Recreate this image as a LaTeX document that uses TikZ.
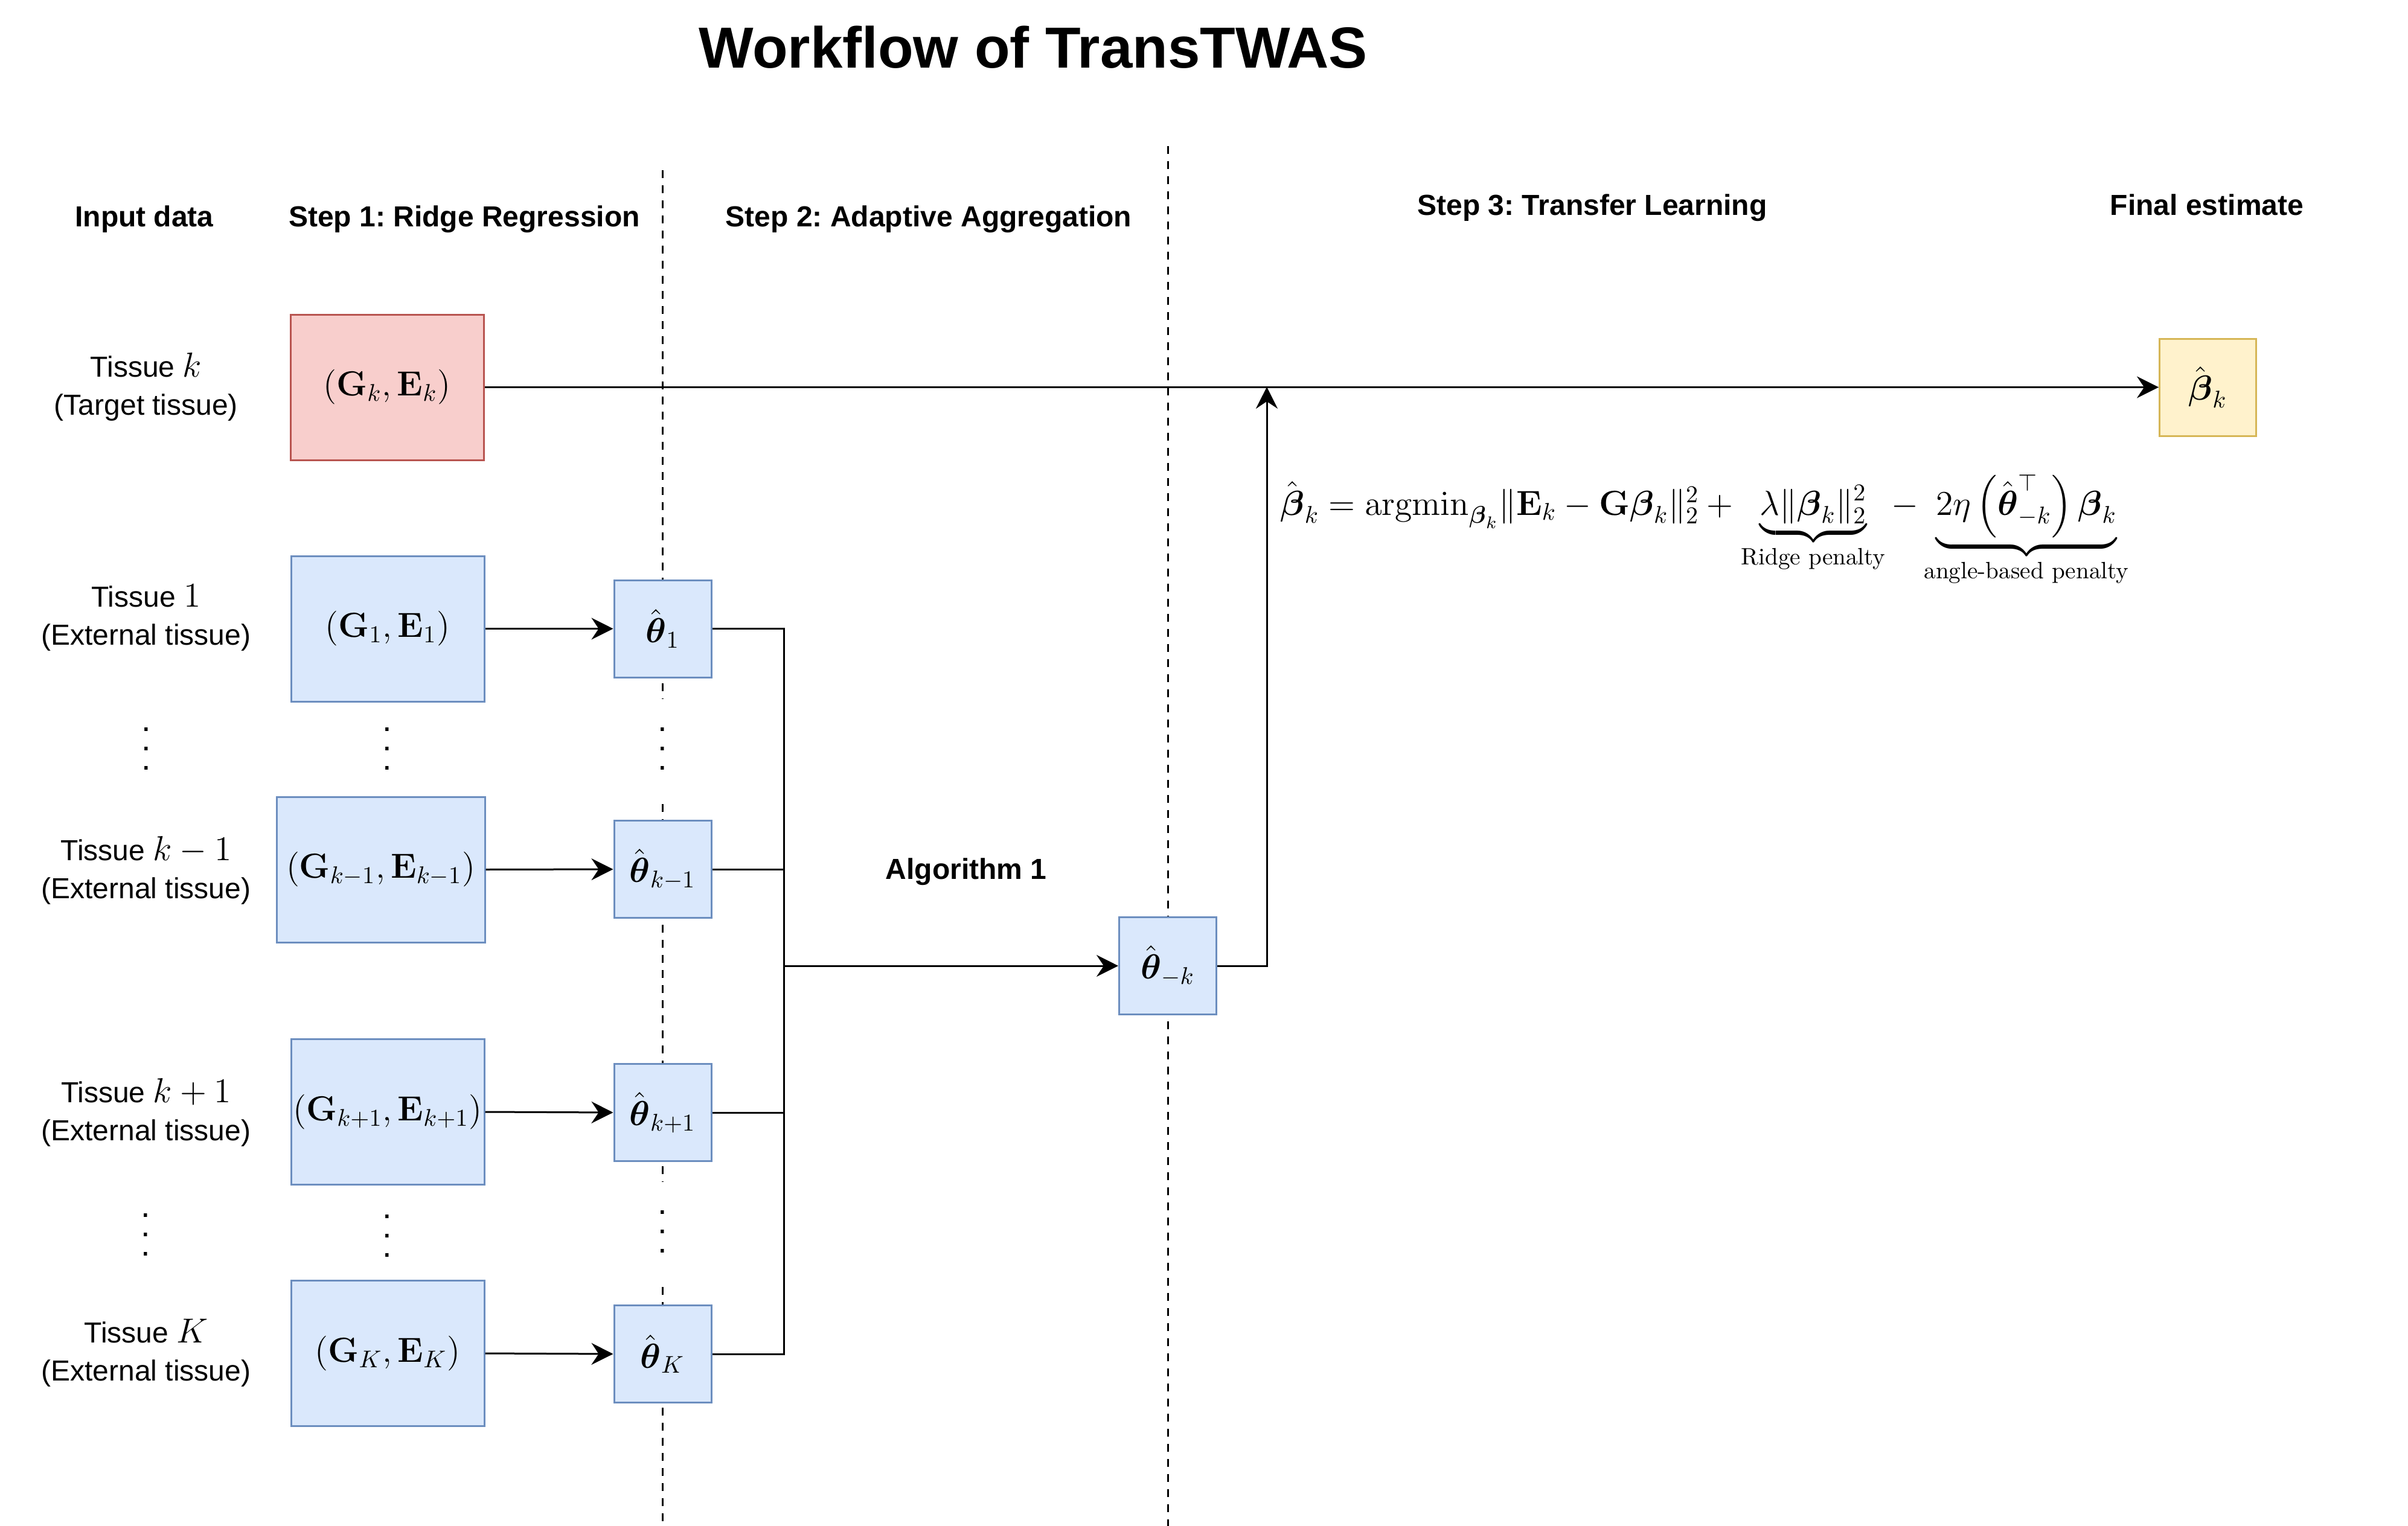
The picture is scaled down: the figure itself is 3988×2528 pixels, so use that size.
\documentclass[tikz,border=0pt]{standalone}
\usepackage{amsmath}
\usepackage[no-math]{fontspec}
\newfontfamily\helv{Liberation Sans}
\usetikzlibrary{arrows.meta}
\definecolor{redfill}{HTML}{F8CECC}
\definecolor{redline}{HTML}{B85450}
\definecolor{bluefill}{HTML}{DAE8FC}
\definecolor{blueline}{HTML}{6C8EBF}
\definecolor{yelfill}{HTML}{FFF2CC}
\definecolor{yelline}{HTML}{D6B656}
\frenchspacing
\newcommand{\tmath}[1]{{\fontsize{14}{15.75}\selectfont$#1$}}
\tikzset{
  databox/.style={draw, line width=0.75pt, minimum width=80pt, minimum height=60.25pt, inner sep=0pt, font=\fontsize{14}{17}\selectfont},
  redbox/.style={databox, fill=redfill, draw=redline},
  bluebox/.style={databox, fill=bluefill, draw=blueline},
  thetabox/.style={draw=blueline, fill=bluefill, line width=0.75pt, minimum width=40.25pt, minimum height=40.25pt, inner sep=0pt, font=\fontsize{14}{17}\selectfont},
  yelbox/.style={draw=yelline, fill=yelfill, line width=0.75pt, minimum width=40pt, minimum height=40.25pt, inner sep=0pt, font=\fontsize{14}{17}\selectfont},
  hdr/.style={anchor=base, inner sep=0pt, font=\helv\bfseries\fontsize{12}{14}\selectfont},
  ttl/.style={anchor=base, inner sep=0pt, font=\helv\bfseries\fontsize{24}{28}\selectfont},
  lab/.style={align=center, inner sep=0pt, font=\helv\fontsize{12}{15.75}\selectfont},
  vdotsnode/.style={align=center, inner sep=0pt, font=\helv\fontsize{14}{8}\selectfont},
  vdotswhite/.style={vdotsnode, fill=white, minimum width=5pt, minimum height=41pt},
  sepline/.style={line width=0.75pt, dash pattern=on 3.25pt off 3pt},
  conn/.style={line width=0.75pt},
  arr/.style={conn, -{Stealth[length=9pt, width=9pt, inset=3pt]}},
  eqn/.style={anchor=base west, inner sep=0pt, font=\fontsize{14}{17}\selectfont},
}
\begin{document}
\begin{tikzpicture}[x=0.25pt,y=-0.25pt]
\useasboundingbox (0,0) rectangle (3988,2528);
% separators
\coordinate (s1top) at (1097,282);
\coordinate (s1bot) at (1097,2528);
\coordinate (s2top) at (1934,242);
\coordinate (s2bot) at (1934,2528);
\draw[sepline] (s1top) -- (s1bot);
\draw[sepline] (s2top) -- (s2bot);

% title and headers
\node[ttl] (title) at (1711,112) {Workflow of TransTWAS};
\node[hdr] (h0) at (239,375) {Input data};
\node[hdr] (h1) at (769,375) {Step 1: Ridge Regression};
\node[hdr] (h2) at (1538,375) {Step 2: Adaptive Aggregation};
\node[hdr] (h3) at (2637,356) {Step 3: Transfer Learning};
\node[hdr] (h4) at (3655,356) {Final estimate};
\node[hdr] (alg) at (1600,1456) {Algorithm 1};

% tissue labels
\node[lab] (lk) at (242,641) {Tissue \tmath{k}\\(Target tissue)};
\node[lab] (l1) at (242,1023) {Tissue \tmath{1}\\(External tissue)};
\node[lab] (lkm1) at (242,1442) {Tissue \tmath{k-1}\\(External tissue)};
\node[lab] (lkp1) at (242,1843) {Tissue \tmath{k+1}\\(External tissue)};
\node[lab] (lK) at (242,2241) {Tissue \tmath{K}\\(External tissue)};

% data boxes
\node[redbox] (dk) at (641,641.5) {$(\mathbf{G}_k,\mathbf{E}_k)$};
\node[bluebox] (d1) at (642,1041.5) {$(\mathbf{G}_1,\mathbf{E}_1)$};
\node[bluebox, minimum width=86.25pt] (dkm1) at (630.5,1440.5) {$(\mathbf{G}_{k-1},\mathbf{E}_{k-1})$};
\node[bluebox] (dkp1) at (642,1842) {$(\mathbf{G}_{k+1},\mathbf{E}_{k+1})$};
\node[bluebox] (dK) at (642,2242) {$(\mathbf{G}_K,\mathbf{E}_K)$};

% theta boxes
\node[thetabox] (t1) at (1097.5,1041.5) {$\hat{\boldsymbol{\theta}}_1$};
\node[thetabox] (tkm1) at (1097.5,1440) {$\hat{\boldsymbol{\theta}}_{k-1}$};
\node[thetabox] (tkp1) at (1097.5,1843) {$\hat{\boldsymbol{\theta}}_{k+1}$};
\node[thetabox] (tK) at (1097.5,2243) {$\hat{\boldsymbol{\theta}}_K$};
\node[thetabox] (tmk) at (1934,1600) {$\hat{\boldsymbol{\theta}}_{-k}$};

% final estimate
\node[yelbox] (bk) at (3656.5,641.5) {$\hat{\boldsymbol{\beta}}_k$};

% vertical dots
\node[vdotsnode] (v1a) at (242,1240) {.\\.\\.};
\node[vdotsnode] (v1b) at (641,1240) {.\\.\\.};
\node[vdotswhite] (v1c) at (1097,1240) {.\\.\\.};
\node[vdotsnode] (v2a) at (241,2045) {.\\.\\.};
\node[vdotsnode] (v2b) at (641,2047) {.\\.\\.};
\node[vdotswhite] (v2c) at (1097,2040) {.\\.\\.};

% connectors
\draw[arr] (dk.east) -- (bk.west);
\draw[arr] (d1.east) -- (t1.west);
\draw[arr] (dkm1.east) -- (tkm1.west);
\draw[arr] (dkp1.east) -- (tkp1.west);
\draw[arr] (dK.east) -- (tK.west);
\coordinate (bus) at (1298,1600);
\draw[conn] (t1.east) -| (bus);
\draw[conn] (tkm1.east) -| (bus);
\draw[conn] (tkp1.east) -| (bus);
\draw[conn] (tK.east) -| (bus);
\draw[arr] (bus) -- (tmk.west);
\coordinate (join) at (2098,641);
\draw[arr] (tmk.east) -| (join);

% equation
\node[eqn] (eq) at (2120,853) {$\hat{\boldsymbol{\beta}}_k=\mathrm{argmin}_{\boldsymbol{\beta}_k}\|\mathbf{E}_k-\mathbf{G}\boldsymbol{\beta}_k\|_2^2+\underbrace{\lambda\|\boldsymbol{\beta}_k\|_2^2}_{\text{Ridge penalty}}-\underbrace{2\eta\left(\hat{\boldsymbol{\theta}}_{-k}^{\top}\right)\boldsymbol{\beta}_k}_{\text{angle-based penalty}}$};
\end{tikzpicture}
\end{document}
